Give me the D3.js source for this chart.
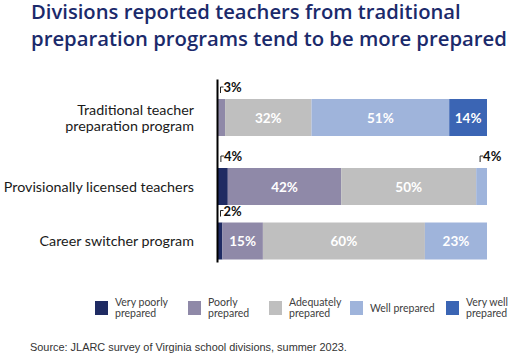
<!DOCTYPE html>
<html>
<head>
<meta charset="utf-8">
<script src="https://cdn.jsdelivr.net/npm/d3@7"></script>
<style>
html,body{margin:0;padding:0;background:#fff;}
svg{display:block;}
</style>
</head>
<body>
<svg id="chart" width="512" height="358"></svg>
<script>
// ---- data ----
const categories = ["Traditional teacher preparation program", "Provisionally licensed teachers", "Career switcher program"];
const categoryLines = [["Traditional teacher", "preparation program"], ["Provisionally licensed teachers"], ["Career switcher program"]];
const levels = ["Very poorly prepared", "Poorly prepared", "Adequately prepared", "Well prepared", "Very well prepared"];
const levelLines = [["Very poorly", "prepared"], ["Poorly", "prepared"], ["Adequately", "prepared"], ["Well prepared"], ["Very well", "prepared"]];
const veryPoorly = [0, 4, 2];
const poorly = [3, 42, 15];
const adequately = [32, 50, 60];
const well = [51, 4, 23];
const veryWell = [14, 0, 0];
const titleLines = ["Divisions reported teachers from traditional", "preparation programs tend to be more prepared"];
const sourceText = "Source: JLARC survey of Virginia school divisions, summer 2023.";

// ---- setup ----
const svg = d3.select("#chart");
const colors = ["#1f2b63", "#8f89a8", "#bfbfbf", "#9fb4db", "#3b65b4"];
const seriesVals = [veryPoorly, poorly, adequately, well, veryWell];
const rows = categories.map((c, i) => {
  const obj = {category: c};
  levels.forEach((l, j) => obj[l] = seriesVals[j][i]);
  return obj;
});
const stacked = d3.stack().keys(levels)(rows);

function fit(sel, target) {
  const node = sel.node();
  let fs = parseFloat(sel.attr("font-size"));
  const w = node.getComputedTextLength();
  if (w > 0) sel.attr("font-size", (fs * target / w).toFixed(2));
}

// title
const tfont = "'Open Sans', sans-serif";
const tBase = [19, 45.5];
const tWidth = [430, 476];
titleLines.forEach((t, i) => {
  const s = svg.append("text").attr("x", 31).attr("y", tBase[i])
    .attr("font-family", tfont).attr("font-weight", 600).attr("font-size", 20).attr("fill", "#1b2a6b")
    .text(t);
  fit(s, tWidth[i]);
});

// scales
const x = d3.scaleLinear().domain([0, 100]).range([217, 487]);
const y = d3.scaleOrdinal().domain(categories).range([117.5, 186.5, 241]);
const barH = 37;

// bars
const g = svg.append("g");
stacked.forEach((s, j) => {
  g.selectAll(null).data(s).enter().append("rect")
    .attr("x", d => x(d[0]))
    .attr("y", d => y(d.data.category) - barH / 2)
    .attr("width", d => x(d[1]) - x(d[0]))
    .attr("height", barH)
    .attr("fill", colors[j]);
});

// labels
const lfont = "Lato, 'Open Sans', sans-serif";
stacked.forEach((s, j) => {
  s.forEach(d => {
    const v = d[1] - d[0];
    if (v <= 0) return;
    const cy = y(d.data.category);
    if (v >= 10) {
      svg.append("text")
        .attr("x", (x(d[0]) + x(d[1])) / 2)
        .attr("y", cy + 5)
        .attr("text-anchor", "middle")
        .attr("font-family", lfont).attr("font-weight", "bold")
        .attr("font-size", 13.5).attr("fill", "#fff")
        .text(v + "%");
    } else {
      const top = cy - barH / 2;
      const bx = Math.max(x(d[0]) + 3.5, (x(d[0]) + x(d[1])) / 2 - 1.5);
      svg.append("path")
        .attr("d", `M${bx},${top - 6}V${top - 12}H${bx + 3}`)
        .attr("fill", "none").attr("stroke", "#222").attr("stroke-width", 1);
      svg.append("text")
        .attr("x", bx + 3)
        .attr("y", top - 7)
        .attr("font-family", lfont).attr("font-weight", "bold")
        .attr("font-size", 13).attr("fill", "#111")
        .text(v + "%");
    }
  });
});

// axis line
const yAxisScale = d3.scaleLinear().domain([0, 1]).range([79, 262]);
svg.append("g").attr("transform", "translate(217,0)")
  .call(d3.axisLeft(yAxisScale).ticks(0).tickSizeOuter(0))
  .call(a => a.select(".domain").attr("stroke", "#000").attr("stroke-width", 2));

// category labels
categoryLines.forEach((lines, i) => {
  const cy = y(categories[i]);
  const lh = 16;
  const t = svg.append("text").attr("text-anchor", "end")
    .attr("font-family", lfont).attr("font-size", 14.3).attr("fill", "#1a1a1a");
  lines.forEach((ln, k) => {
    t.append("tspan").attr("x", 194)
      .attr("y", cy + 5 + (k - (lines.length - 1) / 2) * lh)
      .text(ln);
  });
});

// legend
const legX = [95, 188, 269, 350, 446];
const leg = svg.append("g");
levels.forEach((l, j) => {
  leg.append("rect").attr("x", legX[j]).attr("y", 301).attr("width", 13).attr("height", 14).attr("fill", colors[j]);
  const lines = levelLines[j];
  const t = leg.append("text")
    .attr("font-family", lfont).attr("font-size", 10.5).attr("fill", "#404040");
  lines.forEach((ln, k) => {
    t.append("tspan")
      .attr("x", legX[j] + 20)
      .attr("y", lines.length === 1 ? 312 : 305.5 + k * 11)
      .text(ln);
  });
});

// source
const src = svg.append("text").attr("x", 30).attr("y", 351)
  .attr("font-family", "'Liberation Sans', Arial, sans-serif").attr("font-size", 11).attr("fill", "#333")
  .text(sourceText);
fit(src, 317);
</script>
</body>
</html>
